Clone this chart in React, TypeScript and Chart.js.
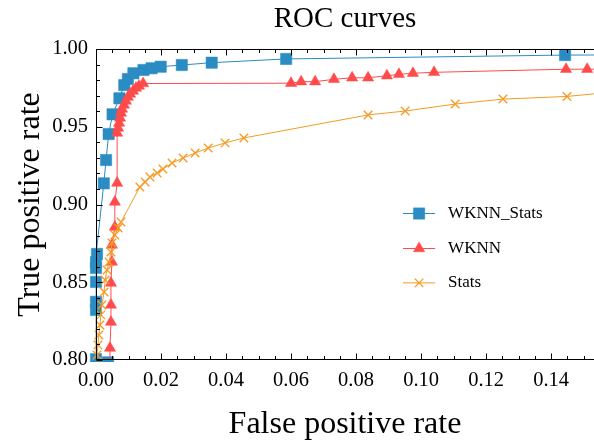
import React, { useEffect, useRef } from 'react';
import { Chart, registerables } from 'chart.js';
import { drawPoint } from 'chart.js/helpers';

Chart.register(...registerables);

// ---------- data ----------
const chartTitle = 'ROC curves';
const xAxisLabel = 'False positive rate';
const yAxisLabel = 'True positive rate';
const seriesNames = ['WKNN_Stats', 'WKNN', 'Stats'];

const wknnStatsFpr = [0.0037, 0.0, 0.0, 0.0, 0.0, 0.0, 0.0, 0.0003, 0.0024, 0.0031, 0.0039, 0.0051, 0.0072, 0.0087, 0.0098, 0.0115, 0.0146, 0.0171, 0.0199, 0.0264, 0.0356, 0.0585, 0.1443, 1.0];
const wknnStatsTpr = [0.7985, 0.8005, 0.8322, 0.8374, 0.8502, 0.8592, 0.863, 0.8682, 0.9136, 0.9286, 0.9453, 0.958, 0.9683, 0.9768, 0.9807, 0.9844, 0.9865, 0.9876, 0.9886, 0.9897, 0.9912, 0.9936, 0.9961, 1.0];

const wknnFpr = [0.004, 0.0043, 0.0046, 0.0046, 0.0046, 0.0049, 0.0049, 0.0058, 0.0058, 0.0065, 0.0065, 0.0068, 0.0071, 0.0074, 0.0077, 0.008, 0.0086, 0.0092, 0.0098, 0.0105, 0.0114, 0.0123, 0.0132, 0.0145, 0.06, 0.0631, 0.0674, 0.0732, 0.0788, 0.0837, 0.0895, 0.0932, 0.0975, 0.104, 0.1446, 0.1511, 1.0];
const wknnTpr = [0.78, 0.8077, 0.8244, 0.8354, 0.8495, 0.863, 0.874, 0.8855, 0.9016, 0.9138, 0.946, 0.9492, 0.9524, 0.9556, 0.9588, 0.9614, 0.964, 0.9666, 0.9691, 0.9711, 0.973, 0.9749, 0.9762, 0.9778, 0.978, 0.979, 0.979, 0.9805, 0.9815, 0.9815, 0.9828, 0.9837, 0.9844, 0.985, 0.987, 0.987, 1.0];

const statsFpr = [0.0, 0.0003, 0.0006, 0.0009, 0.0012, 0.0015, 0.0018, 0.0025, 0.0028, 0.0034, 0.004, 0.0046, 0.0049, 0.0058, 0.0068, 0.0077, 0.0135, 0.0151, 0.0166, 0.0188, 0.0206, 0.0234, 0.0268, 0.0305, 0.0345, 0.0397, 0.0455, 0.0837, 0.0951, 0.1105, 0.1252, 0.1449, 0.16, 1.0];
const statsTpr = [0.78, 0.8032, 0.8097, 0.8161, 0.8225, 0.829, 0.8354, 0.8437, 0.8514, 0.8579, 0.863, 0.8695, 0.8752, 0.8804, 0.8849, 0.8887, 0.9113, 0.9145, 0.9177, 0.9203, 0.9228, 0.9267, 0.9299, 0.9331, 0.9363, 0.9396, 0.9428, 0.9576, 0.9601, 0.9646, 0.9678, 0.9695, 0.9725, 1.0];

const xMin = 0;
const xMax = 0.1532;
const xStep = 0.02;
const xMinorStep = 0.005;
const yMin = 0.8;
const yMax = 1.0;
const yStep = 0.05;
const yMinorStep = 0.01;

// ---------- styles ----------
const FONT = "'Liberation Serif', 'Times New Roman', serif";
const colors = ['#2B8CC3', '#FF4B4B', '#F59A23'];
const pointStyles = ['rect', 'triangle', 'crossRot'];
const pointRadii = [8, 6.5, 6];
const pointBorderWidths = [0.5, 0.5, 1.3];

const toPoints = (xs: number[], ys: number[]) => xs.map((x, i) => ({ x, y: ys[i] }));

const frameTicksPlugin = {
  id: 'frameTicks',
  afterDatasetsDraw(chart: any) {
    const ctx = chart.ctx as CanvasRenderingContext2D;
    const { left, right, top, bottom } = chart.chartArea;
    const xs = chart.scales.x;
    const ys = chart.scales.y;
    ctx.save();
    ctx.strokeStyle = '#000';
    ctx.lineWidth = 1;
    ctx.beginPath();
    const L = Math.round(left) + 0.5;
    const T = Math.round(top) + 0.5;
    const B = Math.round(bottom) - 0.5;
    ctx.moveTo(right + 2, T);
    ctx.lineTo(L, T);
    ctx.lineTo(L, B);
    ctx.lineTo(right + 2, B);
    const nx = Math.round((xs.max - xMin) / xMinorStep + 1e-6);
    for (let i = 0; i <= nx; i++) {
      const v = xMin + i * xMinorStep;
      const px = Math.round(xs.getPixelForValue(v)) + 0.5;
      if (px > right) break;
      const len = i % Math.round(xStep / xMinorStep) === 0 ? 6 : 3.5;
      ctx.moveTo(px, B);
      ctx.lineTo(px, B - len);
      ctx.moveTo(px, T);
      ctx.lineTo(px, T + len);
    }
    const ny = Math.round((yMax - yMin) / yMinorStep);
    for (let i = 0; i <= ny; i++) {
      const v = yMin + i * yMinorStep;
      const py = Math.round(ys.getPixelForValue(v)) + 0.5;
      const len = i % Math.round(yStep / yMinorStep) === 0 ? 6 : 3.5;
      ctx.moveTo(L, py);
      ctx.lineTo(L + len, py);
    }
    ctx.stroke();
    ctx.restore();
  },
  afterDraw(chart: any) {
    const ctx = chart.ctx as CanvasRenderingContext2D;
    const { left, top, width, height } = chart.chartArea;
    const lineStart = left + 0.6165 * width;
    const lineEnd = left + 0.681 * width;
    const textX = left + 0.707 * width;
    const rowsY = [0.529, 0.6415, 0.752].map((f) => top + f * height);
    ctx.save();
    chart.data.datasets.forEach((ds: any, i: number) => {
      const y = rowsY[i];
      ctx.strokeStyle = ds.borderColor;
      ctx.lineWidth = 1;
      ctx.beginPath();
      ctx.moveTo(lineStart, y);
      ctx.lineTo(lineEnd, y);
      ctx.stroke();
      ctx.fillStyle = ds.pointBackgroundColor;
      ctx.strokeStyle = ds.pointBorderColor;
      ctx.lineWidth = ds.pointBorderWidth;
      drawPoint(ctx, { pointStyle: ds.pointStyle, rotation: 0, radius: ds.pointRadius, borderWidth: ds.pointBorderWidth } as any, (lineStart + lineEnd) / 2, y);
      ctx.fillStyle = '#000';
      ctx.font = `17px ${FONT}`;
      ctx.textBaseline = 'middle';
      ctx.textAlign = 'left';
      ctx.fillText(ds.label, textX, y);
    });
    ctx.restore();
  },
};

export default function App() {
  const ref = useRef<HTMLCanvasElement>(null);
  useEffect(() => {
    if (!ref.current) return;
    const series = [toPoints(wknnStatsFpr, wknnStatsTpr), toPoints(wknnFpr, wknnTpr), toPoints(statsFpr, statsTpr)];
    const datasets = series.map((data, i) => ({
      label: seriesNames[i],
      data,
      showLine: true,
      borderColor: colors[i],
      backgroundColor: colors[i],
      borderWidth: 1,
      pointStyle: pointStyles[i],
      pointRadius: pointRadii[i],
      pointHoverRadius: pointRadii[i],
      pointBackgroundColor: colors[i],
      pointBorderColor: colors[i],
      pointBorderWidth: pointBorderWidths[i],
      tension: 0,
      order: 3 - i,
      clip: { left: 8, top: 8, right: 0, bottom: i === 0 ? 2 : 0 },
    }));
    const chart = new Chart(ref.current, {
      type: 'scatter',
      data: { datasets },
      options: {
        animation: false,
        responsive: false,
        devicePixelRatio: 1,
        events: [],
        layout: { padding: 0, autoPadding: false },
        plugins: {
          legend: { display: false },
          tooltip: { enabled: false },
          title: {
            display: true,
            text: chartTitle,
            color: '#000',
            fullSize: false,
            font: { family: FONT, size: 29, weight: 'normal' },
            padding: { top: 2, bottom: 12.2 },
          },
        },
        scales: {
          x: {
            type: 'linear',
            min: xMin,
            max: xMax,
            grid: { display: false, drawTicks: false },
            border: { display: false },
            ticks: {
              stepSize: xStep,
              includeBounds: false,
              autoSkip: false,
              maxRotation: 0,
              padding: 8,
              color: '#000',
              font: { family: FONT, size: 20.5 },
              callback: (v: any) => Number(v).toFixed(2),
            },
            title: {
              display: true,
              text: xAxisLabel,
              color: '#000',
              font: { family: FONT, size: 32, lineHeight: 1 },
              padding: { top: 0, bottom: 0 },
            },
            afterFit: (s: any) => {
              s.height = 81;
              s.paddingLeft = 0;
              s.paddingRight = 0;
            },
          },
          y: {
            type: 'linear',
            min: yMin,
            max: yMax,
            grid: { display: false, drawTicks: false },
            border: { display: false },
            ticks: {
              stepSize: yStep,
              includeBounds: false,
              autoSkip: false,
              padding: 8,
              color: '#000',
              font: { family: FONT, size: 20.5 },
              callback: (v: any) => Number(v).toFixed(2),
            },
            title: {
              display: true,
              text: yAxisLabel,
              color: '#000',
              font: { family: FONT, size: 32 },
              padding: { top: 11.6, bottom: 0 },
            },
            afterFit: (s: any) => {
              s.width = 96;
              s.paddingTop = 0;
              s.paddingBottom = 0;
            },
          },
        },
      },
      plugins: [frameTicksPlugin],
    } as any);
    return () => chart.destroy();
  }, []);
  return (
    <div style={{ position: 'fixed', left: 0, top: 0, width: 594, height: 441, background: '#fff' }}>
      <canvas ref={ref} width={594} height={441} style={{ display: 'block', width: 594, height: 441 }} />
    </div>
  );
}
